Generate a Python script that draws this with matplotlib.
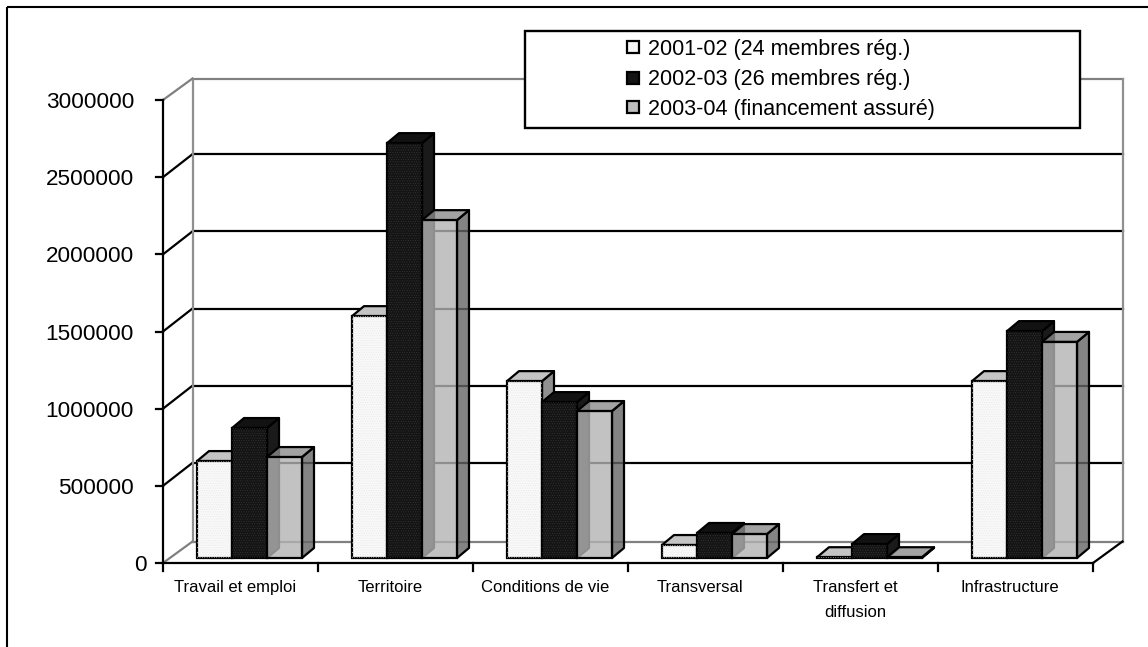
import numpy as np
import matplotlib
matplotlib.use('Agg')
import matplotlib.pyplot as plt
from matplotlib.patches import Polygon, Rectangle

plt.rcParams['font.family'] = ['Liberation Sans', 'DejaVu Sans']
plt.rcParams['hatch.linewidth'] = 0.3

categories = ['Travail et emploi', 'Territoire', 'Conditions de vie', 'Transversal',
              'Transfert et\ndiffusion', 'Infrastructure']
series_names = ['2001-02 (24 membres rég.)', '2002-03 (26 membres rég.)', '2003-04 (financement assuré)']
v2001 = [628000, 1567000, 1146000, 84000, 5000, 1146000]
v2002 = [842000, 2688000, 1010000, 162000, 90000, 1470000]
v2003 = [654000, 2189000, 952000, 155000, 5000, 1400000]
y_ticks = [0, 500000, 1000000, 1500000, 2000000, 2500000, 3000000]

W, H = 1148, 647
fig = plt.figure(figsize=(W / 100, H / 100), dpi=100)

# axes sits on the front plane of the fake 3d box
x0, x1, ytop, ybot = 163, 1093, 100, 563
ax = fig.add_axes([x0 / W, 1 - ybot / H, (x1 - x0) / W, (ybot - ytop) / H])
ax.set_xlim(0, 6)
ax.set_ylim(0, 3000000)
ax.patch.set_visible(False)
for s in ax.spines.values():
    s.set_visible(False)
ax.set_xticks([])
ax.set_yticks([])

px = 6 / (x1 - x0)
py = 3000000 / (ybot - ytop)
LW = 1.6

# depth of the box, of the bar and where the bars stand in it
box_dx, box_dy = 29.5 * px, 21.5 * py
bar_dx, bar_dy = 12 * px, 10 * py
lift = 5 * py
bar_w = 35 * px
first = 34 * px


def seg(xs, ys, c='black', lw=LW, z=1):
    ax.plot(xs, ys, color=c, lw=lw, zorder=z, clip_on=False, solid_capstyle='projecting')


# walls
for t in y_ticks[1:-1]:
    seg([box_dx, 6 + box_dx], [t + box_dy + 1.5 * py, t + box_dy + 1.5 * py])
    seg([0, box_dx], [t, t + box_dy + 1.5 * py])
seg([box_dx, 6 + box_dx], [3000000 + box_dy] * 2, '#808080')
seg([box_dx, 6 + box_dx], [box_dy, box_dy], '#808080')
seg([box_dx, box_dx], [box_dy, 3000000 + box_dy], '#909090')
seg([6 + box_dx, 6 + box_dx], [box_dy, 3000000 + box_dy], '#909090')
seg([0, box_dx], [0, box_dy], '#808080')
seg([0, box_dx], [3000000, 3000000 + box_dy], '#808080')
seg([6, 6 + box_dx], [0, box_dy])

# front axis lines, ticks and labels
seg([0, 6], [0, 0], z=5)
seg([0, 0], [0, 3000000], z=1)
for t in y_ticks:
    seg([-7 * px, 0], [t, t], z=5)
    # the zero label sits further right in the original
    lab_x = -16 * px if t == 0 else -29 * px
    ax.text(lab_x, t - 2.5 * py, str(t), ha='right', va='center', fontsize=16.2)
for i in range(7):
    seg([i, i], [0, -8 * py], z=5)
for i, c in enumerate(categories):
    ax.text(i + 0.5 - 5.5 * px, -17 * py, c, ha='center', va='top', fontsize=12, linespacing=1.8)

faces = [('#f8f8f8', '#c4c4c4', '#909090'),
         ('#141414', '#121212', '#1a1a1a'),
         ((0.70, 0.70, 0.70, 0.8), (0.55, 0.55, 0.55, 0.8), (0.40, 0.40, 0.40, 0.8))]
hatches = ['.......', '.......', None]
hatch_cols = ['#e6e6e6', '#3c3c3c', None]

# bars, series by series so each one covers the one on its left
for k, vals in enumerate([v2001, v2002, v2003]):
    front, top, side = faces[k]
    for i, v in enumerate(vals):
        left = i + first + k * bar_w
        right = left + bar_w
        ax.add_patch(Polygon([(right, lift), (right + bar_dx, lift + bar_dy),
                              (right + bar_dx, lift + v + bar_dy), (right, lift + v)],
                             fc=side, ec='black', lw=LW, zorder=10 + k, clip_on=False, joinstyle='round'))
        ax.add_patch(Polygon([(left, lift + v), (left + bar_dx, lift + v + bar_dy),
                              (right + bar_dx, lift + v + bar_dy), (right, lift + v)],
                             fc=top, ec='black', lw=LW, zorder=10 + k, clip_on=False, joinstyle='round'))
    lefts = [i + first + k * bar_w for i in range(6)]
    ax.bar(lefts, vals, width=bar_w, bottom=lift, align='edge', color=[front] * 6,
           edgecolor='black', linewidth=LW, zorder=10 + k, clip_on=False)
    if hatches[k]:
        ax.bar(lefts, vals, width=bar_w, bottom=lift, align='edge', facecolor='none',
               edgecolor=hatch_cols[k], hatch=hatches[k], linewidth=0, zorder=10 + k, clip_on=False)

# legend drawn by hand to get the box wide like the original
lax = fig.add_axes([0, 0, 1, 1])
lax.set_xlim(0, W)
lax.set_ylim(H, 0)
lax.axis('off')
lax.patch.set_visible(False)
lax.add_patch(Rectangle((525, 31), 555, 97, fc='white', ec='black', lw=1.7, zorder=20))
legend_y = [47, 78, 107]
legend_text_y = [49, 80, 110]
legend_fc = ['#f8f8f8', '#141414', '#bdbdbd']
for n, yy, ty, fc in zip(series_names, legend_y, legend_text_y, legend_fc):
    lax.add_patch(Rectangle((627, yy - 6), 12, 12, fc=fc, ec='black', lw=LW, zorder=21))
    lax.text(648, ty, n, ha='left', va='center', fontsize=15.5, zorder=21)

# page frame: only left and top
lax.plot([7, 7], [7, H], color='black', lw=1.5, solid_capstyle='butt')
lax.plot([7, W], [7, 7], color='black', lw=1.5, solid_capstyle='butt')

fig.savefig('out.png', dpi=100)
